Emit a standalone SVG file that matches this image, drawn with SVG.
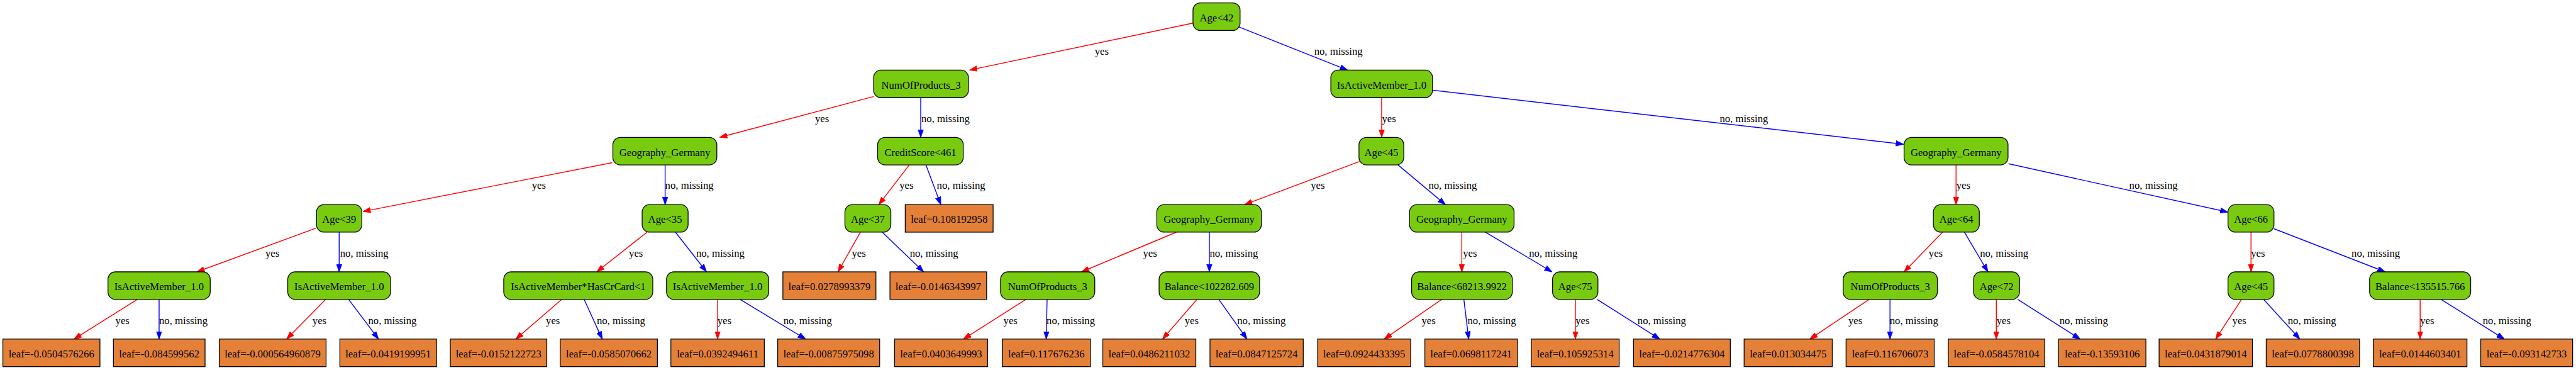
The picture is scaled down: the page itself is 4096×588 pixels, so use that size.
<svg xmlns="http://www.w3.org/2000/svg" width="4096" height="588" viewBox="0 0 4096 588">
<defs>
<style>
.n rect{fill:#78CB0F;stroke:#000;stroke-width:1.4}
.l rect{fill:#E48038;stroke:#000;stroke-width:1.4}
text{font-family:"Liberation Serif","Times New Roman",serif;font-size:18.3px;fill:#000}
.n text,.l text{text-anchor:middle}
.r{stroke:#FF0000;stroke-width:1.55;fill:none;marker-end:url(#ar)}
.b{stroke:#0000FF;stroke-width:1.55;fill:none;marker-end:url(#ab)}
</style>
<marker id="ar" viewBox="0 -5 14 10" refX="13.3" refY="0" markerWidth="14" markerHeight="10" markerUnits="userSpaceOnUse" orient="auto"><path d="M0,-4.7 L13.3,0 L0,4.7 z" fill="#FF0000" stroke="#FF0000" stroke-width="1"/></marker>
<marker id="ab" viewBox="0 -5 14 10" refX="13.3" refY="0" markerWidth="14" markerHeight="10" markerUnits="userSpaceOnUse" orient="auto"><path d="M0,-4.7 L13.3,0 L0,4.7 z" fill="#0000FF" stroke="#0000FF" stroke-width="1"/></marker>
</defs>
<rect width="4096" height="588" fill="#fff"/>
<g transform="scale(0.9133)">
<g id="connectors">
<line class="r" x1="2078" y1="40" x2="1688" y2="122"/>
<line class="b" x1="2157" y1="47" x2="2346" y2="122"/>
<line class="r" x1="1521" y1="168" x2="1253" y2="239"/>
<line class="b" x1="1603" y1="170" x2="1603" y2="239"/>
<line class="r" x1="2405.5" y1="170" x2="2405.5" y2="239"/>
<line class="b" x1="2494" y1="157" x2="3314" y2="251"/>
<line class="r" x1="1066" y1="283" x2="632" y2="368"/>
<line class="b" x1="1158" y1="287" x2="1158" y2="356"/>
<line class="r" x1="1583" y1="287" x2="1530" y2="356"/>
<line class="b" x1="1612" y1="287" x2="1638" y2="356"/>
<line class="r" x1="2367" y1="281" x2="2167" y2="356"/>
<line class="b" x1="2434" y1="287" x2="2516.5" y2="356"/>
<line class="r" x1="3405.5" y1="287" x2="3405.5" y2="356"/>
<line class="b" x1="3497" y1="285" x2="3878.5" y2="369"/>
<line class="r" x1="550" y1="397" x2="343" y2="473"/>
<line class="b" x1="590.5" y1="404" x2="590.5" y2="473"/>
<line class="r" x1="1126.5" y1="404" x2="1039" y2="473"/>
<line class="b" x1="1176" y1="404" x2="1230" y2="473"/>
<line class="r" x1="1498" y1="404" x2="1459" y2="473"/>
<line class="b" x1="1536" y1="404" x2="1608" y2="473"/>
<line class="r" x1="2048" y1="404" x2="1883" y2="473"/>
<line class="b" x1="2105.5" y1="404" x2="2105.5" y2="473"/>
<line class="r" x1="2545" y1="404" x2="2545" y2="473"/>
<line class="b" x1="2586" y1="404" x2="2702" y2="473"/>
<line class="r" x1="3382" y1="404" x2="3315" y2="473"/>
<line class="b" x1="3420" y1="404" x2="3461" y2="473"/>
<line class="r" x1="3919" y1="404" x2="3919" y2="473"/>
<line class="b" x1="3959" y1="398" x2="4152.5" y2="473"/>
<line class="r" x1="239" y1="521" x2="129" y2="590"/>
<line class="b" x1="277" y1="521" x2="277" y2="590"/>
<line class="r" x1="567" y1="521" x2="499" y2="590"/>
<line class="b" x1="607" y1="521" x2="659" y2="590"/>
<line class="r" x1="978" y1="521" x2="898" y2="590"/>
<line class="b" x1="1017" y1="521" x2="1048.5" y2="590"/>
<line class="r" x1="1249.4" y1="521" x2="1249.4" y2="590"/>
<line class="b" x1="1288.6" y1="521" x2="1402.5" y2="590"/>
<line class="r" x1="1786" y1="521" x2="1677.5" y2="590"/>
<line class="b" x1="1823" y1="521" x2="1821.5" y2="590"/>
<line class="r" x1="2084" y1="521" x2="2024" y2="590"/>
<line class="b" x1="2122" y1="521" x2="2171" y2="590"/>
<line class="r" x1="2510" y1="521" x2="2410" y2="590"/>
<line class="b" x1="2548.6" y1="521" x2="2557" y2="590"/>
<line class="r" x1="2742.8" y1="521" x2="2742.8" y2="590"/>
<line class="b" x1="2780.6" y1="521" x2="2889.6" y2="590"/>
<line class="r" x1="3254" y1="521" x2="3151" y2="590"/>
<line class="b" x1="3290.5" y1="521" x2="3290.5" y2="590"/>
<line class="r" x1="3475.6" y1="521" x2="3475.6" y2="590"/>
<line class="b" x1="3513" y1="521" x2="3621.5" y2="590"/>
<line class="r" x1="3902.5" y1="521" x2="3857.5" y2="590"/>
<line class="b" x1="3941" y1="521" x2="4004" y2="590"/>
<line class="r" x1="4213.5" y1="521" x2="4213.5" y2="590"/>
<line class="b" x1="4250" y1="521" x2="4360" y2="590"/>
<g id="edge-labels">
<text x="1906" y="95.5">yes</text>
<text x="2288" y="95.5">no, missing</text>
<text x="1419" y="212.5">yes</text>
<text x="1604" y="212.5">no, missing</text>
<text x="2406" y="212.5">yes</text>
<text x="2994" y="212.5">no, missing</text>
<text x="926" y="328.5">yes</text>
<text x="1158" y="328.5">no, missing</text>
<text x="1566" y="328.5">yes</text>
<text x="1631" y="328.5">no, missing</text>
<text x="2282" y="328.5">yes</text>
<text x="2487" y="328.5">no, missing</text>
<text x="3406" y="328.5">yes</text>
<text x="3707" y="328.5">no, missing</text>
<text x="462" y="446.5">yes</text>
<text x="592" y="446.5">no, missing</text>
<text x="1095" y="446.5">yes</text>
<text x="1212" y="446.5">no, missing</text>
<text x="1483" y="446.5">yes</text>
<text x="1584" y="446.5">no, missing</text>
<text x="1990" y="446.5">yes</text>
<text x="2106" y="446.5">no, missing</text>
<text x="2547" y="446.5">yes</text>
<text x="2662" y="446.5">no, missing</text>
<text x="3358" y="446.5">yes</text>
<text x="3447" y="446.5">no, missing</text>
<text x="3919" y="446.5">yes</text>
<text x="4094" y="446.5">no, missing</text>
<text x="201" y="563.5">yes</text>
<text x="277" y="563.5">no, missing</text>
<text x="544" y="563.5">yes</text>
<text x="641" y="563.5">no, missing</text>
<text x="950.5" y="563.5">yes</text>
<text x="1039" y="563.5">no, missing</text>
<text x="1249" y="563.5">yes</text>
<text x="1364" y="563.5">no, missing</text>
<text x="1747" y="563.5">yes</text>
<text x="1822" y="563.5">no, missing</text>
<text x="2062.6" y="563.5">yes</text>
<text x="2154" y="563.5">no, missing</text>
<text x="2475" y="563.5">yes</text>
<text x="2555" y="563.5">no, missing</text>
<text x="2743" y="563.5">yes</text>
<text x="2851" y="563.5">no, missing</text>
<text x="3218" y="563.5">yes</text>
<text x="3290" y="563.5">no, missing</text>
<text x="3476" y="563.5">yes</text>
<text x="3585.6" y="563.5">no, missing</text>
<text x="3886.5" y="563.5">yes</text>
<text x="3983" y="563.5">no, missing</text>
<text x="4213.5" y="563.5">yes</text>
<text x="4322.5" y="563.5">no, missing</text>
</g>
</g>
<g id="n0" class="n"><rect x="2077" y="5" width="82" height="48" rx="13"/><text x="2118" y="37">Age&lt;42</text></g>
<g id="n1" class="n"><rect x="1521" y="122" width="165" height="48" rx="13"/><text x="1603.5" y="154">NumOfProducts_3</text></g>
<g id="n2" class="n"><rect x="2317" y="122" width="177" height="48" rx="13"/><text x="2405.5" y="154">IsActiveMember_1.0</text></g>
<g id="n3" class="n"><rect x="1067" y="239" width="181" height="48" rx="13"/><text x="1157.5" y="271">Geography_Germany</text></g>
<g id="n4" class="n"><rect x="1528" y="239" width="149" height="48" rx="13"/><text x="1602.5" y="271">CreditScore&lt;461</text></g>
<g id="n5" class="n"><rect x="2366" y="239" width="78" height="48" rx="13"/><text x="2405" y="271">Age&lt;45</text></g>
<g id="n6" class="n"><rect x="3315" y="239" width="181" height="48" rx="13"/><text x="3405.5" y="271">Geography_Germany</text></g>
<g id="n7" class="n"><rect x="551" y="356" width="79" height="48" rx="13"/><text x="590.5" y="388">Age&lt;39</text></g>
<g id="n8" class="n"><rect x="1118" y="356" width="80" height="48" rx="13"/><text x="1158" y="388">Age&lt;35</text></g>
<g id="n9" class="n"><rect x="1471" y="356" width="80" height="48" rx="13"/><text x="1511" y="388">Age&lt;37</text></g>
<g id="n10" class="l"><rect x="1576" y="356" width="153" height="48"/><text x="1652.5" y="388">leaf=0.108192958</text></g>
<g id="n11" class="n"><rect x="2014" y="356" width="182" height="48" rx="13"/><text x="2105" y="388">Geography_Germany</text></g>
<g id="n12" class="n"><rect x="2454" y="356" width="182" height="48" rx="13"/><text x="2545" y="388">Geography_Germany</text></g>
<g id="n13" class="n"><rect x="3366" y="356" width="80" height="48" rx="13"/><text x="3406" y="388">Age&lt;64</text></g>
<g id="n14" class="n"><rect x="3879" y="356" width="80" height="48" rx="13"/><text x="3919" y="388">Age&lt;66</text></g>
<g id="n15" class="n"><rect x="188" y="473" width="178" height="48" rx="13"/><text x="277" y="505">IsActiveMember_1.0</text></g>
<g id="n16" class="n"><rect x="501" y="473" width="179" height="48" rx="13"/><text x="590.5" y="505">IsActiveMember_1.0</text></g>
<g id="n17" class="n"><rect x="877" y="473" width="259.5" height="48" rx="13"/><text x="1006.7" y="505">IsActiveMember*HasCrCard&lt;1</text></g>
<g id="n18" class="n"><rect x="1160.4" y="473" width="178" height="48" rx="13"/><text x="1249.4" y="505">IsActiveMember_1.0</text></g>
<g id="n19" class="l"><rect x="1363" y="473" width="162" height="48"/><text x="1444" y="505">leaf=0.0278993379</text></g>
<g id="n20" class="l"><rect x="1549.4" y="473" width="168.3" height="48"/><text x="1633.5" y="505">leaf=-0.0146343997</text></g>
<g id="n21" class="n"><rect x="1742" y="473" width="164" height="48" rx="13"/><text x="1824" y="505">NumOfProducts_3</text></g>
<g id="n22" class="n"><rect x="2018" y="473" width="175" height="48" rx="13"/><text x="2105.5" y="505">Balance&lt;102282.609</text></g>
<g id="n23" class="n"><rect x="2457.7" y="473" width="175.3" height="48" rx="13"/><text x="2545.3" y="505">Balance&lt;68213.9922</text></g>
<g id="n24" class="n"><rect x="2703" y="473" width="79" height="48" rx="13"/><text x="2742.5" y="505">Age&lt;75</text></g>
<g id="n25" class="n"><rect x="3209" y="473" width="164" height="48" rx="13"/><text x="3291" y="505">NumOfProducts_3</text></g>
<g id="n26" class="n"><rect x="3436" y="473" width="80" height="48" rx="13"/><text x="3476" y="505">Age&lt;72</text></g>
<g id="n27" class="n"><rect x="3879" y="473" width="80" height="48" rx="13"/><text x="3919" y="505">Age&lt;45</text></g>
<g id="n28" class="n"><rect x="4125.5" y="473" width="176" height="48" rx="13"/><text x="4213.5" y="505">Balance&lt;135515.766</text></g>
<g id="L1" class="l"><rect x="5" y="590" width="169" height="48"/><text x="89.5" y="622">leaf=-0.0504576266</text></g>
<g id="L2" class="l"><rect x="197.5" y="590" width="159.5" height="48"/><text x="277.2" y="622">leaf=-0.084599562</text></g>
<g id="L3" class="l"><rect x="381.7" y="590" width="186" height="48"/><text x="474.7" y="622">leaf=-0.000564960879</text></g>
<g id="L4" class="l"><rect x="591.7" y="590" width="168.3" height="48"/><text x="675.8" y="622">leaf=-0.0419199951</text></g>
<g id="L5" class="l"><rect x="784" y="590" width="168" height="48"/><text x="868" y="622">leaf=-0.0152122723</text></g>
<g id="L6" class="l"><rect x="975.3" y="590" width="169.3" height="48"/><text x="1060" y="622">leaf=-0.0585070662</text></g>
<g id="L7" class="l"><rect x="1168" y="590" width="162.7" height="48"/><text x="1249.4" y="622">leaf=0.0392494611</text></g>
<g id="L8" class="l"><rect x="1354" y="590" width="177.5" height="48"/><text x="1442.7" y="622">leaf=-0.00875975098</text></g>
<g id="L9" class="l"><rect x="1557.5" y="590" width="162" height="48"/><text x="1638.5" y="622">leaf=0.0403649993</text></g>
<g id="L10" class="l"><rect x="1745" y="590" width="153.5" height="48"/><text x="1821.7" y="622">leaf=0.117676236</text></g>
<g id="L11" class="l"><rect x="1920" y="590" width="162" height="48"/><text x="2001" y="622">leaf=0.0486211032</text></g>
<g id="L12" class="l"><rect x="2106.6" y="590" width="162.4" height="48"/><text x="2187.8" y="622">leaf=0.0847125724</text></g>
<g id="L13" class="l"><rect x="2294" y="590" width="162" height="48"/><text x="2375" y="622">leaf=0.0924433395</text></g>
<g id="L14" class="l"><rect x="2480.7" y="590" width="161.3" height="48"/><text x="2561.3" y="622">leaf=0.0698117241</text></g>
<g id="L15" class="l"><rect x="2666" y="590" width="153" height="48"/><text x="2742.5" y="622">leaf=0.105925314</text></g>
<g id="L16" class="l"><rect x="2844" y="590" width="168.5" height="48"/><text x="2928.2" y="622">leaf=-0.0214776304</text></g>
<g id="L17" class="l"><rect x="3036.5" y="590" width="153.5" height="48"/><text x="3113.2" y="622">leaf=0.013034475</text></g>
<g id="L18" class="l"><rect x="3214" y="590" width="153.5" height="48"/><text x="3290.8" y="622">leaf=0.116706073</text></g>
<g id="L19" class="l"><rect x="3392" y="590" width="168" height="48"/><text x="3476" y="622">leaf=-0.0584578104</text></g>
<g id="L20" class="l"><rect x="3584" y="590" width="152" height="48"/><text x="3660" y="622">leaf=-0.13593106</text></g>
<g id="L21" class="l"><rect x="3759" y="590" width="162.5" height="48"/><text x="3840.2" y="622">leaf=0.0431879014</text></g>
<g id="L22" class="l"><rect x="3945.5" y="590" width="162.5" height="48"/><text x="4026.7" y="622">leaf=0.0778800398</text></g>
<g id="L23" class="l"><rect x="4132" y="590" width="163" height="48"/><text x="4213.5" y="622">leaf=0.0144603401</text></g>
<g id="L24" class="l"><rect x="4319" y="590" width="160" height="48"/><text x="4399" y="622">leaf=-0.093142733</text></g>
</g>
</svg>
